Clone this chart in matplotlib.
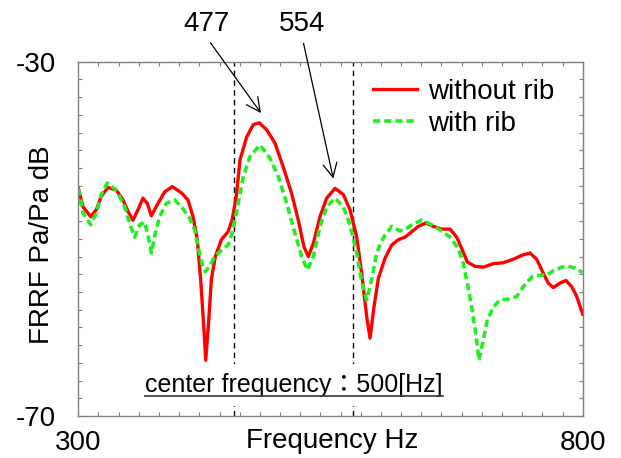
import matplotlib
matplotlib.use("Agg")
import matplotlib.pyplot as plt
from matplotlib.ticker import MultipleLocator, FixedLocator
from matplotlib.lines import Line2D

plt.rcParams['font.family'] = ['Liberation Sans', 'Noto Sans CJK JP', 'DejaVu Sans']
plt.rcParams['axes.unicode_minus'] = False

# ---- data ----
red_f = [300, 304.7, 312.3, 317.9, 322.8, 329.4, 337.7, 344.3, 349.3, 354.2,
         359.2, 364.1, 368.4, 372.4, 379, 385.6, 393.2, 402.1, 408.7, 413.7,
         418, 421.3, 424.6, 426.3, 429.3, 431.9, 435.8, 441.8, 448.4, 452.4,
         456.6, 460.3, 466.9, 473.5, 479.4, 486.8, 495, 503.2, 511.5, 518.1,
         523.7, 528, 533, 539.6, 546.2, 554.5, 562.7, 569.3, 576, 580.9,
         585.9, 589.2, 593.1, 597.4, 604, 610.7, 617.2, 623.9, 630.5, 637,
         644.7, 651.9, 660.2, 668.5, 675.1, 680.1, 685.6, 693.2, 701.5, 711.4,
         721.3, 731.2, 741.1, 747.8, 754.4, 761, 765.9, 770.9, 777.5, 783.4,
         789.1, 794.1, 800]
red_db = [-44.3, -46.4, -47.5, -46.7, -45.2, -44.2, -44.5, -45.6, -46.9, -47.9,
          -46.7, -45.4, -46.0, -47.4, -46.0, -44.7, -44.1, -44.8, -45.6, -47.5,
          -50.1, -54.6, -60.3, -63.7, -59.2, -54.6, -52.0, -50.1, -49.2, -47.9,
          -45.2, -41.1, -38.5, -37.1, -36.9, -37.7, -39.2, -41.9, -44.9, -47.9,
          -50.9, -52.0, -50.5, -47.5, -45.4, -44.3, -45.0, -46.7, -49.8, -53.9,
          -58.8, -61.2, -57.7, -54.5, -52.2, -50.7, -50.1, -49.8, -49.2, -48.6,
          -48.2, -48.6, -48.9, -48.9, -49.8, -51.1, -52.6, -53.1, -53.2, -52.8,
          -52.7, -52.3, -51.8, -51.6, -52.3, -53.9, -55.0, -55.5, -55.0, -54.7,
          -55.4, -56.5, -58.5]

green_f = [300, 304.7, 312.3, 317.9, 322.8, 328.7, 337.7, 346, 351.9, 355.9,
           360.9, 365.8, 369.1, 372.4, 376.3, 380.7, 387.2, 395.6, 403.8, 410.4,
           415.4, 418.7, 422.6, 425.9, 430.2, 435.2, 441.8, 448.4, 453.4, 457.5,
           463.5, 470.2, 480.1, 490, 498.3, 506.6, 514.8, 521.5, 527, 533,
           539.6, 546.2, 554.5, 562.7, 569.3, 576, 580.9, 585.9, 590.8, 595.8,
           601, 604, 610.7, 618.9, 625.5, 632.1, 640.4, 648.6, 658.5, 668.5,
           676.7, 681.7, 685.6, 690, 694, 697.2, 701.5, 705.4, 711.4, 718,
           726.3, 734.6, 741.1, 749.4, 757.7, 764.3, 770.9, 779.2, 785.8, 792.4,
           800]
green_db = [-44.3, -47.1, -48.4, -47.1, -45.0, -43.7, -44.5, -46.4, -48.6, -49.8,
            -48.4, -48.1, -49.6, -51.6, -49.4, -47.5, -46.0, -45.6, -46.6, -47.7,
            -49.0, -50.9, -52.8, -53.7, -53.1, -52.0, -51.3, -50.7, -49.0, -46.6,
            -43.0, -40.7, -39.4, -40.9, -43.0, -46.0, -49.4, -52.0, -53.5, -52.0,
            -48.6, -46.4, -45.4, -46.4, -48.4, -51.6, -54.8, -56.9, -54.6, -51.6,
            -50.2, -49.6, -48.6, -49.1, -48.8, -48.3, -47.9, -48.3, -49.0, -49.8,
            -51.1, -52.8, -55.0, -57.7, -60.7, -63.7, -61.4, -59.2, -57.7, -56.9,
            -56.8, -56.5, -55.4, -54.3, -54.1, -54.1, -53.6, -53.2, -53.1, -53.3,
            -53.8]

series_labels = ["without rib", "with rib"]
x_ticks = [300, 800]
y_ticks = [-70, -30]
band_lines = [454.6, 572.6]
peaks = [("477", 481.1, -35.8, 426.6, -25.7), ("554", 552.8, -43.2, 521.8, -25.7)]
center_text = "center frequency：500[Hz]"

# ---- figure ----
fig = plt.figure(figsize=(6.21, 4.58), dpi=100)
ax = fig.add_axes([0.1261, 0.0917, 0.8122, 0.7736])

for xv in band_lines:
    ax.axvline(xv, color='black', lw=1.0, ls=(0, (4, 3)), zorder=1.5)

ax.plot(red_f, red_db, color='#ff0000', lw=2.4, solid_joinstyle='round',
        label=series_labels[0], zorder=2)
ax.plot(green_f, green_db, color='#22ee22', lw=2.6, ls=(0, (2.0, 1.1)),
        label=series_labels[1], zorder=2.1)

ax.set_xlim(300, 800)
ax.set_ylim(-70, -30)
ax.xaxis.set_major_locator(FixedLocator(x_ticks))
ax.yaxis.set_major_locator(FixedLocator(y_ticks))
ax.xaxis.set_minor_locator(MultipleLocator(20))
ax.yaxis.set_minor_locator(MultipleLocator(2))

for s in ax.spines.values():
    s.set_color('#808080')
    s.set_linewidth(1.0)
ax.tick_params(which='both', direction='in', top=True, right=True,
               color='#808080', width=0.8)
ax.tick_params(which='major', length=3)
ax.tick_params(which='minor', length=3)
ax.tick_params(axis='y', which='major', labelsize=20, pad=16)
ax.tick_params(axis='x', which='major', labelsize=20, pad=10)

ax.set_xlabel("Frequency Hz", fontsize=20)
ax.xaxis.set_label_coords(0.503, -0.035)
ax.set_ylabel("FRRF Pa/Pa dB", fontsize=20)
ax.yaxis.set_label_coords(-0.047, 0.483)

ax.legend(loc='upper left', bbox_to_anchor=(0.584, 0.951), frameon=False,
          borderpad=0, borderaxespad=0, handlelength=1.6, handletextpad=0.4,
          labelspacing=0.2, fontsize=20)

for lab, hx, hy, tx, ty in peaks:
    ax.annotate(lab, xy=(hx, hy), xytext=(tx, ty), ha='center', va='center',
                fontsize=20, annotation_clip=False,
                arrowprops=dict(arrowstyle='->,head_length=0.5,head_width=0.25',
                                color='black', lw=0.9, relpos=(0.5, 0.0),
                                shrinkA=3, shrinkB=0))

cx = (band_lines[0] + band_lines[1]) / 2
cy = -67.3
t = ax.text(cx, cy, center_text, ha='center', va='baseline', fontsize=18,
            bbox=dict(boxstyle='square,pad=0.35', fc='white', ec='none'),
            zorder=3)

fig.canvas.draw()
bb = t.get_window_extent(renderer=fig.canvas.get_renderer())
base_y = ax.transData.transform((cx, cy))[1] - 4
(fx0, fy), (fx1, _) = fig.transFigure.inverted().transform([(bb.x0, base_y), (bb.x1, base_y)])
fig.add_artist(Line2D([fx0, fx1], [fy, fy], color='#444444', lw=1.3,
                      transform=fig.transFigure, zorder=4))

fig.savefig("out.png", dpi=100)
